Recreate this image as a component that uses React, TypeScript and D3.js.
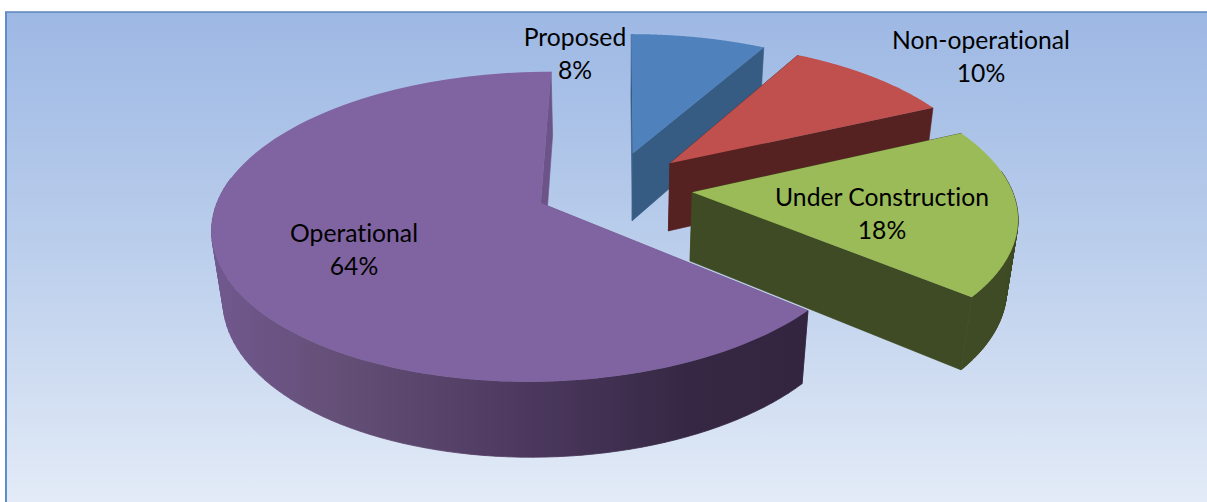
import * as d3 from 'd3'

const categories = ['Proposed', 'Non-operational', 'Under Construction', 'Operational']
const shares = [8, 10, 18, 64]

const topColors = ['#4f81bd', '#c0504d', '#9bbb59', '#8064a2']
const wallColors = ['#365c84', '#552221', '#3f4b24', 'url(#wallPurple)']
const labelAnchors = [[575, 46], [981, 49], [882, 206], [354, 242]]

const width = 1207
const height = 502

// rough projection of the tilted pie, fitted to the picture
const cx = 613.5
const cy = 187.5
const R = 319
const explode = 79
const tilt = 0.46
const depth = 70.5
const perspectiveX = 0.145
const perspectiveY = 0.15
const converge = 0.028

const DEG = Math.PI / 180

function project(X: number, Z: number, drop: number): [number, number] {
  const sx = 1 / (1 + (perspectiveX * Z) / R + converge * drop)
  const sy = 1 / (1 + (perspectiveY * Z) / R + converge * drop)
  return [cx + X * sx, cy + (-Z * tilt + depth * drop) * sy]
}

const line = d3.line()

export default function App() {
  const arcs = d3.pie<number>().sort(null).startAngle(0.2 * DEG).endAngle(360.2 * DEG)(shares)

  const slices = arcs.map((arc, i) => {
    const mid = (arc.startAngle + arc.endAngle) / 2
    const ox = explode * Math.sin(mid)
    const oz = explode * Math.cos(mid)
    const pt = (a: number, r: number, drop: number) =>
      project(ox + r * Math.sin(a), oz + r * Math.cos(a), drop)
    const steps = d3.range(0, 121).map(k => arc.startAngle + ((arc.endAngle - arc.startAngle) * k) / 120)
    const rimTop = steps.map(a => pt(a, R, 0))
    const apexTop = pt(0, 0, 0)
    const apexBottom = pt(0, 0, 1)
    const first = steps[0]
    const last = steps[120]

    // outer wall as one quad per step, all wound the same way so they don't cancel at the tangent
    const outer = d3
      .pairs(steps)
      .filter(([a]) => Math.cos(a) < 0.15)
      .map(([a, b]) => {
        const quad: [number, number][] = [pt(a, R, 0), pt(b, R, 0), pt(b, R, 1), pt(a, R, 1)]
        if (d3.polygonArea(quad) < 0) quad.reverse()
        return line(quad)! + 'Z'
      })
      .join('')

    return {
      top: line([apexTop, ...rimTop])! + 'Z',
      outer,
      startWall: line([apexTop, pt(first, R, 0), pt(first, R, 1), apexBottom])! + 'Z',
      endWall: line([apexTop, pt(last, R, 0), pt(last, R, 1), apexBottom])! + 'Z',
      topFill: topColors[i],
      wall: wallColors[i],
    }
  })

  return (
    <svg
      width={width}
      height={height}
      style={{ position: 'absolute', left: 0, top: 0, display: 'block', fontVariantLigatures: 'none' }}
      fontFamily="Lato, 'Open Sans', sans-serif"
    >
      <defs>
        <linearGradient id="bg" x1="0" y1="0" x2="0" y2="1">
          <stop offset="0" stopColor="#9db8e4" />
          <stop offset="0.5" stopColor="#bccfec" />
          <stop offset="1" stopColor="#e3ebf7" />
        </linearGradient>
        <linearGradient id="wallPurple" gradientUnits="userSpaceOnUse" x1="212" y1="0" x2="806" y2="0">
          <stop offset="0" stopColor="#71588f" />
          <stop offset="0.2" stopColor="#655078" />
          <stop offset="0.5" stopColor="#4f3a62" />
          <stop offset="0.8" stopColor="#362844" />
          <stop offset="1" stopColor="#33253f" />
        </linearGradient>
      </defs>
      <rect width={width} height={height} fill="#fff" />
      <rect x={6} y={12} width={width - 6} height={height - 12} fill="url(#bg)" />
      <line x1={5} y1={12} x2={width} y2={12} stroke="#5a84bd" strokeWidth={1.5} />
      <line x1={6} y1={12} x2={6} y2={height} stroke="#5f8ccb" strokeWidth={2} />

      {slices.map((s, i) => {
        const side = i === 3 ? '#6d5488' : s.wall
        return (
          <g key={categories[i]}>
            <path d={s.startWall} fill={side} stroke={side} strokeWidth={0.6} />
            <path d={s.endWall} fill={side} stroke={side} strokeWidth={0.6} />
            <path d={s.outer} fill={s.wall} stroke={s.wall} strokeWidth={0.8} />
            <path d={s.top} fill={s.topFill} />
          </g>
        )
      })}

      {categories.map((c, i) => (
        <text key={c} x={labelAnchors[i][0]} y={labelAnchors[i][1]} fontSize={24.7} textAnchor="middle" fill="#000">
          <tspan x={labelAnchors[i][0]}>{c}</tspan>
          <tspan x={labelAnchors[i][0]} dy={33}>{shares[i]}%</tspan>
        </text>
      ))}
    </svg>
  )
}
